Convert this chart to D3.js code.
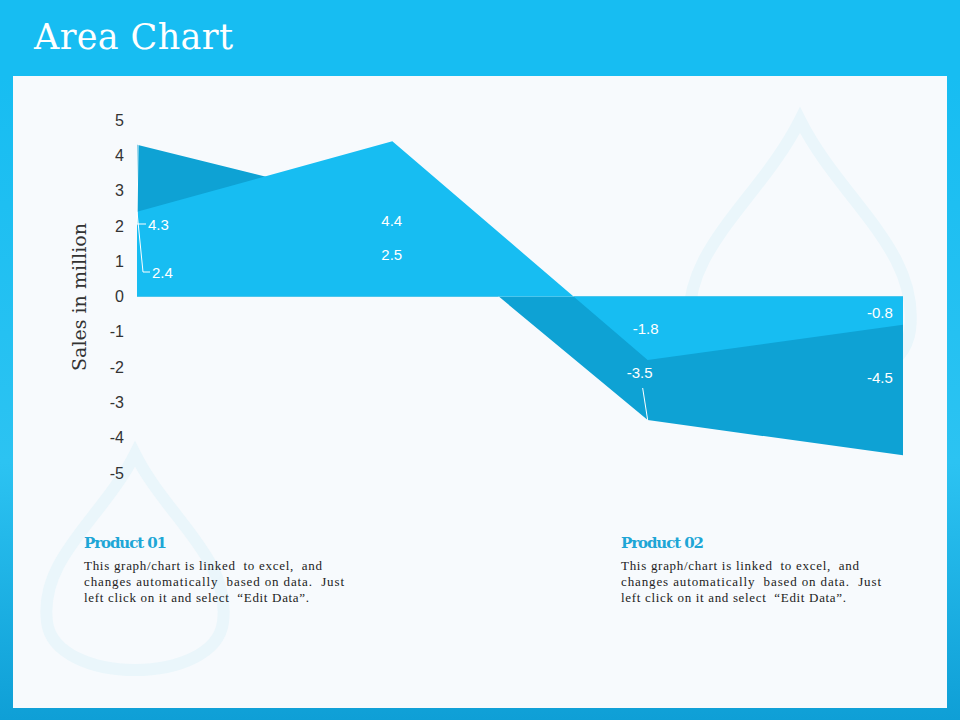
<!DOCTYPE html>
<html><head><meta charset="utf-8">
<script src="https://cdn.jsdelivr.net/npm/d3@7"></script>
<style>body{margin:0;}svg{display:block;}</style>
</head><body>
<script>
const categories = ["C1", "C2", "C3", "C4"];
const series1 = [4.3, 2.5, -3.5, -4.5];   // dark, behind
const series2 = [2.4, 4.4, -1.8, -0.8];   // light, front
const yTicks = [5, 4, 3, 2, 1, 0, -1, -2, -3, -4, -5];

const svg = d3.select("body").append("svg").attr("width", 960).attr("height", 720);
svg.append("rect").attr("width", 960).attr("height", 720).attr("fill", "#17bdf2");
const grad = svg.append("defs").append("linearGradient").attr("id", "bg").attr("x1", 0).attr("y1", 0).attr("x2", 0).attr("y2", 1);
grad.append("stop").attr("offset", "0%").attr("stop-color", "#17bdf2");
grad.append("stop").attr("offset", "60%").attr("stop-color", "#2cc3f2");
grad.append("stop").attr("offset", "100%").attr("stop-color", "#0f9fd6");
svg.append("rect").attr("y", 76).attr("width", 960).attr("height", 644).attr("fill", "url(#bg)");
svg.append("rect").attr("x", 13).attr("y", 76).attr("width", 934).attr("height", 632).attr("fill", "#f7fafd");

svg.append("text").attr("x", 34).attr("y", 49).attr("fill", "#fff")
  .style("font-family", "DejaVu Serif, serif").style("font-size", "35px").attr("textLength", 199).text("Area Chart");

// faint drops
const drop = (cx, cy, s) => svg.append("path")
  .attr("d", `M${cx},${cy - 170 * s} C${cx + 40 * s},${cy - 90 * s} ${cx + 120 * s},${cy - 40 * s} ${cx + 110 * s},${cy + 40 * s} C${cx + 100 * s},${cy + 120 * s} ${cx - 100 * s},${cy + 120 * s} ${cx - 110 * s},${cy + 40 * s} C${cx - 120 * s},${cy - 40 * s} ${cx - 40 * s},${cy - 90 * s} ${cx},${cy - 170 * s}Z`)
  .attr("fill", "none").attr("stroke", "#eaf6fb").attr("stroke-width", 12);
drop(800, 290, 1);
drop(135, 590, 0.8);

const x = d3.scalePoint().domain(categories).range([137, 903]);
const y = d3.scaleLinear().domain([-5, 5]).range([473, 120]);

const area = d3.area().x((d, i) => x(categories[i])).y0(y(0)).y1(d => y(d));
svg.append("path").datum(series1).attr("d", area).attr("fill", "#0ea2d4");
svg.append("path").datum(series2).attr("d", area).attr("fill", "#17bdf2");

const ax = svg.append("g").attr("transform", "translate(124,0)")
  .call(d3.axisLeft(y).tickValues(yTicks).tickSize(0).tickPadding(0).tickFormat(d => String(d)));
ax.select(".domain").remove();
ax.selectAll("text").style("font-family", "Liberation Sans, Arial, sans-serif").style("font-size", "16px").attr("fill", "#333");

svg.append("text").attr("transform", "translate(86,297) rotate(-90)").attr("text-anchor", "middle")
  .style("font-family", "DejaVu Serif, serif").style("font-size", "19px").attr("fill", "#333").text("Sales in million");

// data labels
const lab = (tx, ty, t) => svg.append("text").attr("x", tx).attr("y", ty).attr("fill", "#fff")
  .style("font-family", "Liberation Sans, Arial, sans-serif").style("font-size", "15px").text(t);
const line = (pts) => svg.append("path").attr("d", d3.line()(pts)).attr("fill", "none").attr("stroke", "#fff").attr("stroke-width", 1);
line([[x("C1") + 1, y(series1[0])], [x("C1"), 224], [146, 224]]);
lab(148, 230, d3.format(".1f")(series1[0]));
line([[x("C1"), y(series2[0])], [x("C1") + 6, 272], [150, 272]]);
lab(152, 278, series2[0]);
lab(x("C2") - 11, 226, series2[1]);
lab(x("C2") - 11, 260, series1[1]);
lab(x("C3") - 15, 334, series2[2]);
lab(x("C3") - 21, 378, series1[2]);
line([[x("C3") - 5, 388], [x("C3"), y(series1[2])]]);
lab(x("C4") - 36, 318, series2[3]);
lab(x("C4") - 36, 383, series1[3]);

const block = (bx, title) => {
  svg.append("text").attr("x", bx).attr("y", 548).attr("fill", "#1ea6d6").attr("textLength", 83)
    .style("font-family", "DejaVu Serif, serif").style("font-weight", "bold").style("font-size", "15px").text(title);
  ["This graph/chart is linked  to excel,  and", "changes automatically  based on data.  Just", "left click on it and select  \u201CEdit Data\u201D."]
    .forEach((t, i) => svg.append("text").attr("x", bx).attr("y", 570 + i * 16).attr("fill", "#222")
      .attr("textLength", [238, 260, 225][i])
      .style("font-family", "Liberation Serif, serif").style("font-size", "13px").style("white-space", "pre").text(t));
};
block(84, "Product 01");
block(621, "Product 02");
</script>
</body></html>
